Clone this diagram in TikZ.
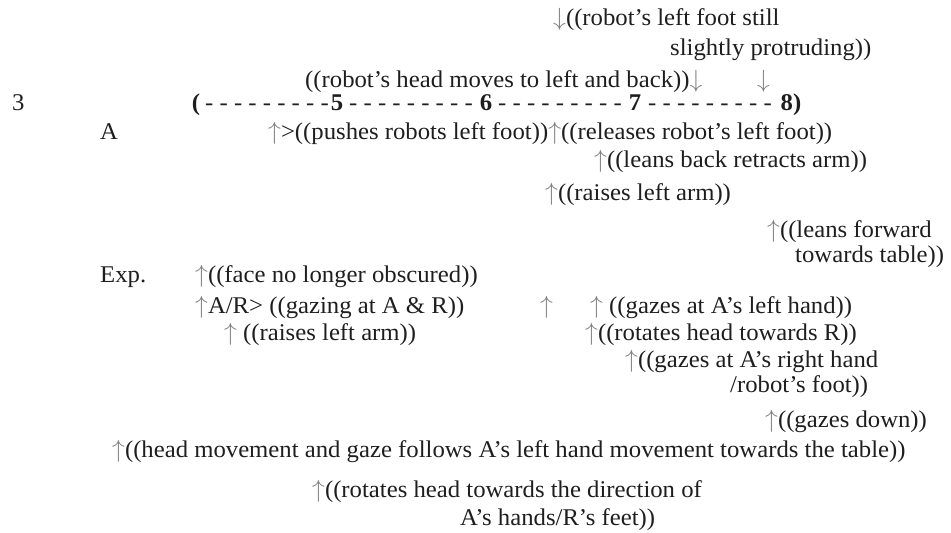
\documentclass[tikz,border=0pt]{standalone}
\usepackage{fontspec}
\setmainfont{Liberation Serif}
\definecolor{ink}{HTML}{1E1E1E}
\definecolor{arrgray}{HTML}{808080}
% gray arrow glyphs with a compact box so they sit tightly in the lines
\newcommand\upa{{\color{arrgray}\raisebox{0pt}[0.68em][0pt]{$\uparrow$}}}
\newcommand\dna{{\color{arrgray}\raisebox{0pt}[0.68em][0pt]{$\downarrow$}}}
\tikzset{
  base font/.style={font=\fontsize{24}{28}\selectfont, text=ink, inner sep=0pt, xscale=1.03},
  txt/.style={base font, anchor=base west},
  tick/.style={base font, anchor=base, font=\fontsize{24}{28}\selectfont\bfseries},
  dashrun/.style={base font, anchor=base},
}
\begin{document}
\begin{tikzpicture}[x=1pt,y=-1pt]
\useasboundingbox (0,0) rectangle (951,533);
% robot annotations above the timeline
\node[txt] (foot1) at (553,25) {\dna((robot’s left foot still};
\node[txt] (foot2) at (670,55) {slightly protruding))};
\node[txt] (head) at (305,87) {((robot’s head moves to left and back))\dna};
\node[txt] (dn2) at (757,87) {\dna};
% timeline
\node[txt] (num) at (12,110) {3};
\node[tick] (open) at (196,110) {(};
\node[tick] (t5) at (337,110) {5};
\node[tick] (t6) at (486,110) {6};
\node[tick] (t7) at (635,110) {7};
\node[tick] (t8) at (791,110) {8)};
\node[dashrun] (d1) at (267,110) {- - - - - - - - -};
\node[dashrun] (d2) at (411,110) {- - - - - - - - -};
\node[dashrun] (d3) at (560,110) {- - - - - - - - -};
\node[dashrun] (d4) at (710,110) {- - - - - - - - -};
% participant A
\node[txt] (pa) at (100,139) {A};
\node[txt] (a1) at (268,139) {\upa>((pushes robots left foot))\upa((releases robot’s left foot))};
\node[txt] (a2) at (594,167) {\upa((leans back retracts arm))};
\node[txt] (a3) at (545,200) {\upa((raises left arm))};
\node[txt] (a4) at (767,237) {\upa((leans forward};
\node[txt] (a5) at (795,262) {towards table))};
% experimenter
\node[txt] (pe) at (100,282) {Exp.};
\node[txt] (e1) at (195,282) {\upa((face no longer obscured))};
\node[txt] (e2) at (195,313) {\upa A/R> ((gazing at A \& R))};
\node[txt] (e3) at (540,313) {\upa};
\node[txt] (e4) at (590,313) {\upa{} ((gazes at A’s left hand))};
\node[txt] (e5) at (224,340) {\upa{} ((raises left arm))};
\node[txt] (e6) at (585,340) {\upa((rotates head towards R))};
\node[txt] (e7) at (625,367) {\upa((gazes at A’s right hand};
\node[txt] (e8) at (730,392) {/robot’s foot))};
\node[txt] (e9) at (765,427) {\upa((gazes down))};
\node[txt] (e10) at (112,457) {\upa((head movement and gaze follows A’s left hand movement towards the table))};
\node[txt] (e11) at (312,497) {\upa((rotates head towards the direction of};
\node[txt] (e12) at (460,525) {A’s hands/R’s feet))};
\end{tikzpicture}
\end{document}
